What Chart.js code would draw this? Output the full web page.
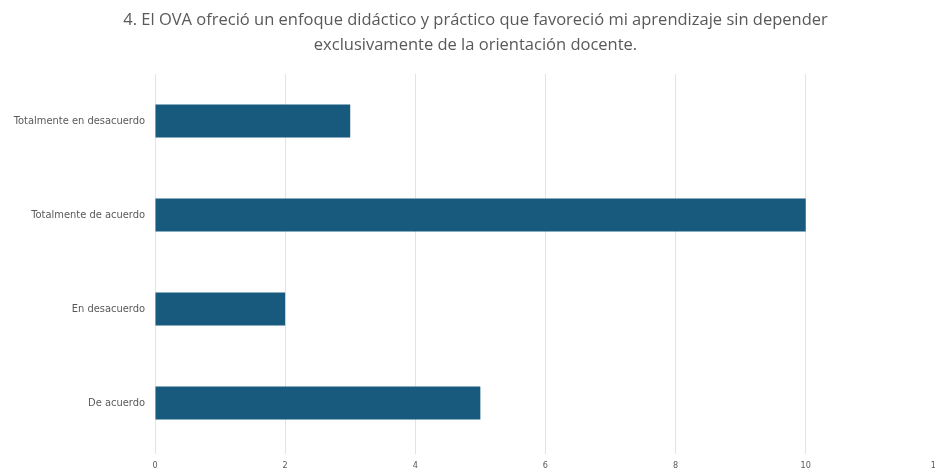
<!DOCTYPE html>
<html>
<head>
<meta charset="utf-8">
<script src="https://cdn.jsdelivr.net/npm/chart.js@4.4.1/dist/chart.umd.min.js"></script>
<style>
  html, body { margin: 0; padding: 0; background: #fff; overflow: hidden; }
  #wrap { width: 947px; height: 470px; }
</style>
</head>
<body>
<div id="wrap"><canvas id="chart"></canvas></div>
<script>
// Respuestas a la pregunta 4
const categories = [
    "Totalmente en desacuerdo",
    "Totalmente de acuerdo",
    "En desacuerdo",
    "De acuerdo"
];
const counts = [3, 10, 2, 5];
const xTicks = [0, 2, 4, 6, 8, 10, 12];
const titleLines = [
    "4. El OVA ofreció un enfoque didáctico y práctico que favoreció mi aprendizaje sin depender",
    "exclusivamente de la orientación docente."
];

const labelFont = "'DejaVu Sans Condensed', 'Liberation Sans', sans-serif";
const ctx = document.getElementById('chart').getContext('2d');

new Chart(ctx, {
    type: 'bar',
    data: {
        labels: categories,
        datasets: [{
            data: counts,
            backgroundColor: '#175a7e',
            categoryPercentage: 1,
            barPercentage: 0.35
        }]
    },
    options: {
        indexAxis: 'y',
        responsive: true,
        maintainAspectRatio: false,
        animation: false,
        layout: { padding: { left: 4, right: 0, top: 8, bottom: 0 } },
        plugins: {
            legend: { display: false },
            tooltip: { enabled: false },
            title: {
                display: true,
                text: titleLines,
                color: '#595959',
                font: { family: 'Open Sans', size: 16.5, weight: 'normal', lineHeight: 1.5 },
                padding: { top: 0, bottom: 16.5 }
            }
        },
        scales: {
            x: {
                min: 0,
                max: 12,
                afterBuildTicks: axis => { axis.ticks = xTicks.map(v => ({ value: v })); },
                afterFit: axis => { axis.height = 20; },
                grid: { color: '#e3e3e3', drawTicks: true, tickLength: 4 },
                border: { display: false },
                ticks: {
                    color: '#595959',
                    font: { family: labelFont, size: 9 },
                    padding: 6,
                    maxRotation: 0
                }
            },
            y: {
                afterFit: axis => { axis.width = 151; },
                grid: { display: false, drawTicks: false },
                border: { display: false },
                ticks: {
                    color: '#595959',
                    font: { family: labelFont, size: 11 },
                    padding: 10
                }
            }
        }
    }
});
</script>
</body>
</html>
